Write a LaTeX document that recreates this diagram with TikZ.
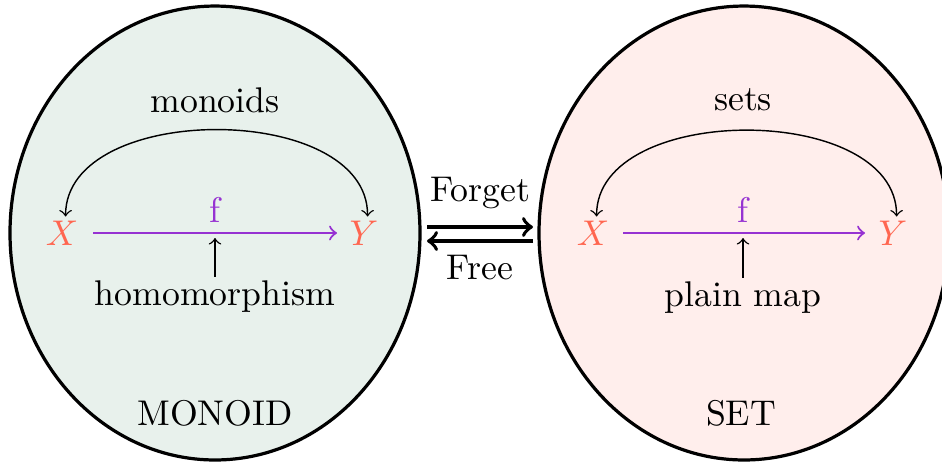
\documentclass[tikz,border=0pt]{standalone}
\usetikzlibrary{shapes.geometric,calc}
\definecolor{objc}{RGB}{255,102,80}
\definecolor{mapc}{RGB}{150,50,210}
\definecolor{monfill}{RGB}{232,241,236}
\definecolor{setfill}{RGB}{255,238,236}
\tikzset{
  catbox/.style={ellipse, draw, line width=0.9pt, minimum width=114.8pt, minimum height=127.1pt, inner sep=0pt},
  obj/.style={text=objc, inner sep=1pt},
  maparrow/.style={->, mapc, line width=0.6pt},
  thinarrow/.style={->, thin},
  functor/.style={->, line width=1.05pt},
  lbl/.style={inner sep=1pt}
}
\begin{document}
\begin{tikzpicture}[x=0.28pt,y=-0.28pt]
\useasboundingbox (0,0) rectangle (942,461);
% left category
\node[catbox, fill=monfill] (L) at (215,233) {};
\node[obj] (X1) at (62,233) {$X$};
\node[obj] (Y1) at (364,233) {$Y$};
\node[lbl, text=mapc] (f1) at (215,210) {f};
\node[lbl] (mon) at (215,100) {monoids};
\node[lbl] (hom) at (215,297) {homomorphism};
\node[lbl] (MON) at (215,413) {MONOID};
\coordinate (a1) at (215,238);
\draw[maparrow] (93,233) coordinate (s1) -- (337,233) coordinate (e1);
\draw[thinarrow, <->] ([xshift=1pt]X1.north) to[out=90,in=90,looseness=0.98] ([xshift=1pt]Y1.north);
\draw[thinarrow] (hom.north) -- (a1);
% right category
\node[catbox, fill=setfill] (R) at (744,233) {};
\node[obj] (X2) at (593,233) {$X$};
\node[obj] (Y2) at (893,233) {$Y$};
\node[lbl, text=mapc] (f2) at (743,210) {f};
\node[lbl] (sets) at (743,100) {sets};
\node[lbl] (pm) at (743,298) {plain map};
\node[lbl] (SET) at (741,413) {SET};
\coordinate (a2) at (743,238);
\draw[maparrow] (623,233) coordinate (s2) -- (865,233) coordinate (e2);
\draw[thinarrow, <->] ([xshift=1pt]X2.north) to[out=90,in=90,looseness=0.98] ([xshift=1pt]Y2.north);
\draw[thinarrow] (pm.north) -- (a2);
% functors
\coordinate (ft) at (427,227);
\coordinate (fe) at (533,227);
\coordinate (gt) at (533,241);
\coordinate (ge) at (427,241);
\draw[functor] (ft) -- (fe);
\draw[functor] (gt) -- (ge);
\node[lbl] (forget) at (480,193) {Forget};
\node[lbl] (free) at (480,268) {Free};
\end{tikzpicture}
\end{document}
